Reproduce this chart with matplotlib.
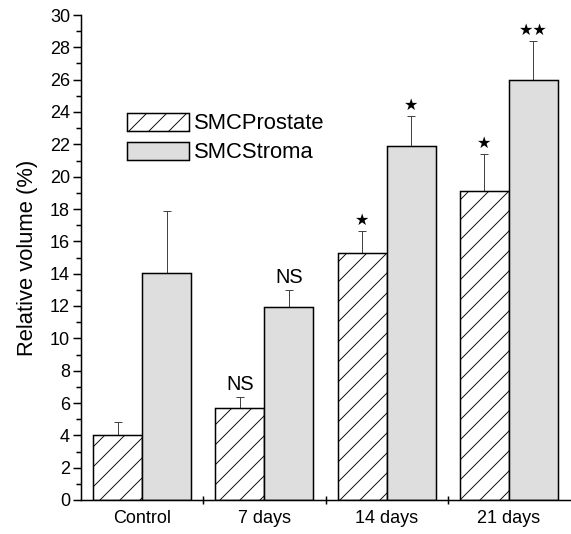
import numpy as np
import matplotlib
matplotlib.use("Agg")
from matplotlib import pyplot as plt

# data
groups = ["Control", "7 days", "14 days", "21 days"]
prostate = [4.0, 5.7, 15.3, 19.1]
prostate_err = [0.8, 0.7, 1.35, 2.3]
stroma = [14.05, 11.95, 21.9, 25.95]
stroma_err = [3.8, 1.05, 1.85, 2.45]
prostate_marks = ["", "NS", "★", "★"]
stroma_marks = ["", "NS", "★", "★★"]

DPI = 120
px = 72 / DPI  # points per pixel

plt.rcParams['font.family'] = ['Liberation Sans', 'DejaVu Sans']
plt.rcParams['hatch.linewidth'] = 0.9 * px

fig = plt.figure(figsize=(571 / DPI, 534 / DPI), dpi=DPI)
ax = fig.add_axes([81 / 571, 34 / 534, 489 / 571, 485 / 534])

x = np.arange(len(groups))
w = 0.4
gray = '#dedede'

ax.bar(x - w / 2, prostate, w, color='white', edgecolor='black',
       hatch='//', linewidth=1.5 * px, label='SMCProstate', zorder=2)
ax.bar(x + w / 2, stroma, w, color=gray, edgecolor='black',
       linewidth=1.5 * px, label='SMCStroma', zorder=2)

# upward error bars only
for xs, vals, errs in [(x - w / 2, prostate, prostate_err), (x + w / 2, stroma, stroma_err)]:
    ax.errorbar(xs, vals, yerr=[np.zeros(len(errs)), errs], fmt='none',
                ecolor='#444444', elinewidth=1.0 * px, capsize=4 * px,
                capthick=1.0 * px, zorder=1)

# significance marks
for xs, vals, errs, marks in [(x - w / 2, prostate, prostate_err, prostate_marks),
                              (x + w / 2, stroma, stroma_err, stroma_marks)]:
    for xi, v, e, m in zip(xs, vals, errs, marks):
        if not m:
            continue
        if m == "NS":
            ax.annotate(m, (xi, v + e), xytext=(0, 3 * px), textcoords='offset points',
                        ha='center', va='bottom', fontsize=20 * px)
        else:
            ax.annotate(m, (xi, v + e), xytext=(0, 3 * px), textcoords='offset points',
                        ha='center', va='bottom', fontsize=16 * px,
                        family='DejaVu Sans')

ax.set_xlim(-0.5, 3.5)
ax.set_ylim(0, 30)
ax.spines['top'].set_visible(False)
ax.spines['right'].set_visible(False)
for s in ['left', 'bottom']:
    ax.spines[s].set_linewidth(1.5 * px)

ax.set_yticks(np.arange(0, 31, 2))
ax.set_yticks(np.arange(1, 30, 2), minor=True)
ax.set_xticks(x)
ax.set_xticklabels(groups)
ax.set_xticks([0.5, 1.5, 2.5], minor=True)

ax.tick_params(axis='y', which='major', direction='out', length=8 * px,
               width=1.5 * px, labelsize=18 * px, pad=3 * px)
ax.tick_params(axis='y', which='minor', direction='out', length=5 * px, width=1.5 * px)
ax.tick_params(axis='x', which='major', length=0, labelsize=18 * px, pad=10 * px)
ax.tick_params(axis='x', which='minor', direction='inout', length=9 * px, width=1.5 * px)

ax.set_ylabel('Relative volume (%)', fontsize=22 * px, labelpad=12 * px)

ax.legend(loc='upper left', bbox_to_anchor=(127 / 571, 1 - 113 / 534),
          bbox_transform=fig.transFigure, frameon=False, fontsize=22 * px,
          handlelength=2.8, handleheight=0.85, handletextpad=0.25,
          labelspacing=0.35, borderpad=0, borderaxespad=0)

fig.savefig('out.png', dpi=DPI)
